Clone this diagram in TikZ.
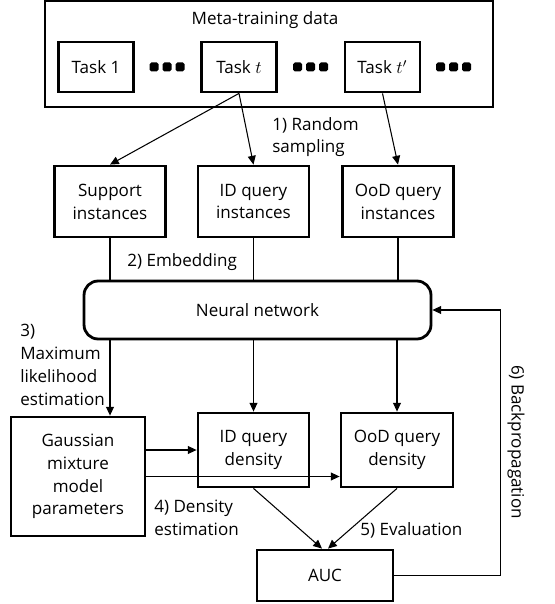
\documentclass[tikz,border=0pt]{standalone}
\usepackage{fontspec}
\setmainfont{Open Sans}
\usetikzlibrary{arrows.meta}
\begin{document}
\begin{tikzpicture}[x=0.02cm, y=-0.02cm,
    font=\fontsize{9.7pt}{13pt}\selectfont,
    box/.style={draw, line width=1.6pt, align=center, inner sep=0pt},
    conn/.style={line width=0.6pt},
    arr/.style={conn, -{Triangle[length=5pt,width=4.5pt]}},
    lbl/.style={anchor=west, align=left, inner sep=0pt}]
      \useasboundingbox (0,0) rectangle (554,604);

      % meta-training data and its tasks
      \node[box, minimum width=8.96cm, minimum height=2.12cm] (meta) at (269,54) {};
      \node (title) at (265,20) {Meta-training data};
      \node[box, minimum width=1.5cm, minimum height=1cm] (task1) at (96,67) {Task 1};
      \node[box, minimum width=1.5cm, minimum height=1cm] (taskt) at (239,67) {Task $t$};
      \node[box, minimum width=1.5cm, minimum height=1cm] (tasktp) at (382.5,67) {Task $t'$};
      \foreach \cx in {167,310.5,453.5}
        \foreach \d in {-13,0,13}
          \fill[rounded corners=1pt] (\cx+\d-4.5,62.5) rectangle ++(9,9);

      % sampled instances
      \node[box, minimum width=2.22cm, minimum height=1.42cm] (support) at (110,201.5) {Support\\instances};
      \node[box, minimum width=2.22cm, minimum height=1.42cm] (idq) at (253.5,201.5) {ID query\\instances};
      \node[box, minimum width=2.22cm, minimum height=1.42cm] (oodq) at (398,201.5) {OoD query\\instances};
      \draw[arr] (taskt.south) -- (support.north);
      \draw[arr] (taskt.south) -- (idq.north);
      \draw[arr] (tasktp.south) -- (oodq.north);
      \node[lbl] (sampling) at (272,137) {1) Random\\sampling};

      % network
      \node[box, rounded corners=8pt, minimum width=6.94cm, minimum height=1.16cm] (nn) at (257.5,310) {Neural network};
      \draw[conn] (support.south) -- (support.south |- nn.north);
      \draw[conn] (idq.south) -- (idq.south |- nn.north);
      \draw[conn] (oodq.south) -- (oodq.south |- nn.north);
      \node[lbl] (embed) at (127,262) {2) Embedding};

      % densities
      \node[box, minimum width=2.68cm, minimum height=2.38cm] (gmm) at (78,476.5) {Gaussian\\mixture\\model\\parameters};
      \node[box, minimum width=2.22cm, minimum height=1.48cm] (idd) at (253.5,450) {ID query\\density};
      \node[box, minimum width=2.24cm, minimum height=1.48cm] (oodd) at (397,450) {OoD query\\density};
      \draw[arr] (nn.south -| support.south) -- (gmm.north -| support.south);
      \draw[arr] (nn.south -| idd.north) -- (idd.north);
      \draw[arr] (nn.south -| oodd.north) -- (oodd.north);
      \node[lbl] (mle) at (20,365) {3)\\Maximum\\likelihood\\estimation};
      \draw[arr] (gmm.east |- idd.west) -- (idd.west);
      \draw[arr] (gmm.east) -- (gmm.east -| oodd.west);
      \node[lbl] (densest) at (154,518) {4) Density\\estimation};

      % evaluation
      \node[box, minimum width=2.72cm, minimum height=1.02cm] (auc) at (325,575.5) {AUC};
      \draw[arr] (idd.south) -- ([xshift=-0.06cm]auc.north);
      \draw[arr] (oodd.south) -- ([xshift=0.06cm]auc.north);
      \node[lbl] (evalu) at (360,530) {5) Evaluation};
      \draw[arr] (auc.east) -- ++(106,0) |- (nn.east);
      \node[rotate=-90] (backprop) at (516,442) {6) Backpropagation};
  \end{tikzpicture}
\end{document}
